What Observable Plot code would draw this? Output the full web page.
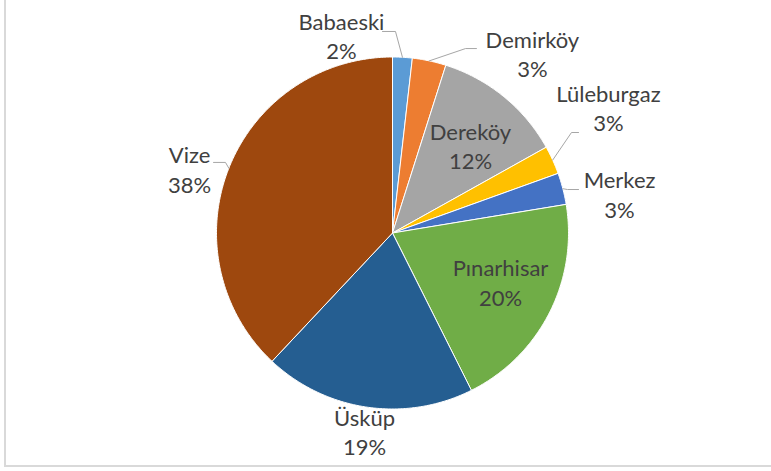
<!DOCTYPE html>
<html>
<head>
<meta charset="utf-8">
<script src="https://cdn.jsdelivr.net/npm/d3@7"></script>
<script src="https://cdn.jsdelivr.net/npm/@observablehq/plot@0.6"></script>
<style>
  html, body { margin: 0; padding: 0; background: #fff; overflow: hidden; width: 771px; height: 471px; }
  #frame { position: absolute; left: 4px; top: -2px; width: 780px; height: 465px; border: 2px solid #d9d9d9; }
  #chart { position: absolute; left: 0; top: 0; }
</style>
</head>
<body>
<div id="frame"></div>
<div id="chart"></div>
<script>
// Data
const districts = ["Babaeski", "Demirköy", "Dereköy", "Lüleburgaz", "Merkez", "Pınarhisar", "Üsküp", "Vize"];
const shares = [1.8, 3.1, 12.0, 2.6, 2.9, 20.2, 19.4, 38.0];
const percentLabels = ["2%", "3%", "12%", "3%", "3%", "20%", "19%", "38%"];
const colors = ["#5B9BD5", "#ED7D31", "#A5A5A5", "#FFC000", "#4472C4", "#70AD47", "#255E91", "#9E480E"];

// Layout (unit-circle coordinates): label anchor (baseline of last line) and leader elbow/end
const labelPos = [
  [-0.290, 0.991], [0.795, 0.884], [0.443, 0.361], [1.227, 0.577],
  [1.290, 0.088], [0.614, -0.412], [-0.159, -1.264], [-1.153, 0.230]
];
const leaders = [
  [[0.017, 1.145], [-0.057, 1.145]],
  [[0.415, 1.048], [0.477, 1.048]],
  null,
  [[1.017, 0.571], [1.057, 0.571]],
  [[0.994, 0.247], [1.057, 0.247]],
  null,
  null,
  [[-0.949, 0.401], [-1.017, 0.401]]
];

const total = d3.sum(shares);
let cum = 0;
const slices = districts.map((name, i) => {
  const a0 = cum / total * 2 * Math.PI;
  cum += shares[i];
  const a1 = cum / total * 2 * Math.PI;
  return {name, a0, a1, mid: (a0 + a1) / 2, i};
});

// Polygon vertices for each slice (geometry along the arc)
const pts = [];
for (const s of slices) {
  pts.push({name: s.name, u: 0, v: 0});
  const n = Math.max(4, Math.ceil((s.a1 - s.a0) / (Math.PI / 360)));
  for (let k = 0; k <= n; k++) {
    const a = s.a0 + (s.a1 - s.a0) * k / n;
    pts.push({name: s.name, u: Math.sin(a), v: Math.cos(a)});
  }
  pts.push({name: s.name, u: 0, v: 0});
}

const leaderPts = [];
slices.forEach((s, i) => {
  if (!leaders[i]) return;
  leaderPts.push({name: s.name, u: Math.sin(s.mid), v: Math.cos(s.mid)});
  for (const [u, v] of leaders[i]) leaderPts.push({name: s.name, u, v});
});

const labels = slices.map((s, i) => ({
  text: s.name + "\n" + percentLabels[i],
  u: labelPos[i][0], v: labelPos[i][1]
}));

const chart = Plot.plot({
  width: 771,
  height: 465,
  margin: 0,
  x: {domain: [-1, 1], range: [216, 568], axis: null},
  y: {domain: [-1, 1], range: [408.5, 56.5], axis: null},
  color: {domain: districts, range: colors},
  style: {background: "transparent"},
  marks: [
    Plot.line(pts, {x: "u", y: "v", z: "name", fill: "name", stroke: "white", strokeWidth: 1, curve: "linear-closed"}),
    Plot.line(leaderPts, {x: "u", y: "v", z: "name", stroke: "#a6a6a6", strokeWidth: 1}),
    Plot.text(labels, {
      x: "u", y: "v", text: "text",
      textAnchor: "middle", lineAnchor: "bottom", lineHeight: 1.32,
      fontSize: 22, fontFamily: "Lato", fill: "#404040"
    })
  ]
});
document.getElementById("chart").append(chart);
</script>
</body>
</html>
